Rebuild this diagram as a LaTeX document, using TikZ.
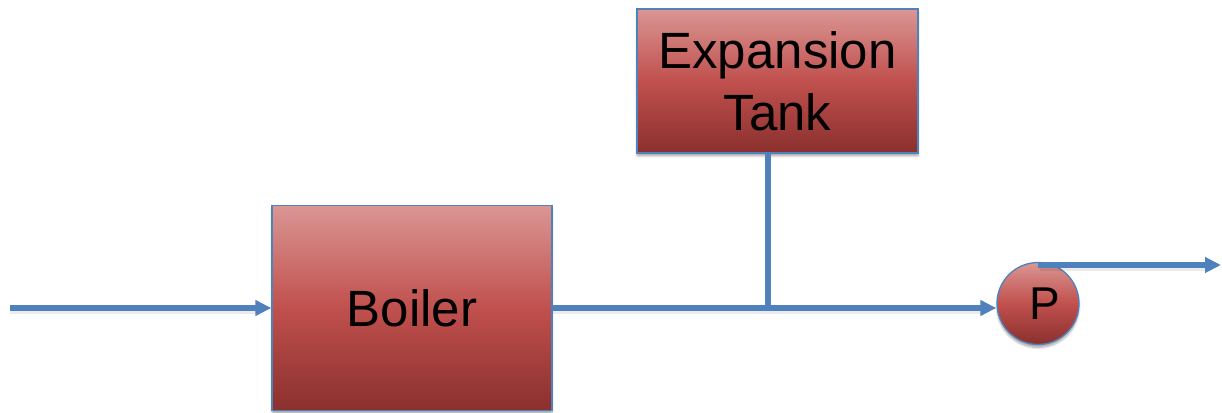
\documentclass[tikz,border=0pt]{standalone}
\usepackage{fontspec}
\setmainfont{Liberation Sans}
\usetikzlibrary{arrows.meta,shadows.blur}
\definecolor{pipeblue}{RGB}{79,129,189}
\definecolor{redtop}{RGB}{218,150,148}
\definecolor{redmid}{RGB}{192,80,77}
\definecolor{redbot}{RGB}{138,48,46}
\begin{document}
\begin{tikzpicture}[x=1pt,y=1pt,
  unitbox/.style={draw=pipeblue, line width=1.3pt, top color=redtop, bottom color=redbot,
    middle color=redmid, inner sep=0pt, align=center,
    font=\fontsize{51}{62}\selectfont,
    blur shadow={shadow xshift=0pt, shadow yshift=-3pt, shadow blur steps=6, shadow opacity=35}},
  pumpbox/.style={unitbox, circle, minimum size=82pt, font=\fontsize{46}{50}\selectfont},
  pipe/.style={draw=pipeblue, line width=5.5pt},
  pipeshadow/.style={draw=black, opacity=0.08, line width=6pt},
  flow/.style={pipe, -{Triangle[length=16pt,width=15pt]}}]
  \useasboundingbox (0,0) rectangle (1222,412);

  % equipment
  \node[unitbox, minimum width=280pt, minimum height=205pt] (boiler) at (412,104) {Boiler};
  \node[unitbox, minimum width=281pt, minimum height=144pt] (tank) at (777.5,331) {Expansion\\Tank};
  \node[pumpbox] (pump) at (1038,108.5) {\hspace{14pt}P};

  % pipe end points and the tee below the tank
  \coordinate (inlet) at (10,104);
  \coordinate (tee) at (768,104);
  \coordinate (outlet) at (1221,147);

  % soft shadows under the piping
  \begin{scope}[transform canvas={yshift=-3pt}]
    \draw[pipeshadow] (inlet) -- ([xshift=-14pt]boiler.west);
    \draw[pipeshadow] (boiler.east) -- ([xshift=-14pt]pump.west |- boiler.east);
    \draw[pipeshadow] ([xshift=2pt]pump.north |- outlet) -- ([xshift=-14pt]outlet);
  \end{scope}

  % piping
  \draw[flow] (inlet) -- (boiler.west);
  \draw[flow] (boiler.east) -- (pump.west |- boiler.east);
  \draw[pipe] (tank.south -| tee) -- (tee);
  \draw[flow] (pump.north |- outlet) -- (outlet);
\end{tikzpicture}
\end{document}
